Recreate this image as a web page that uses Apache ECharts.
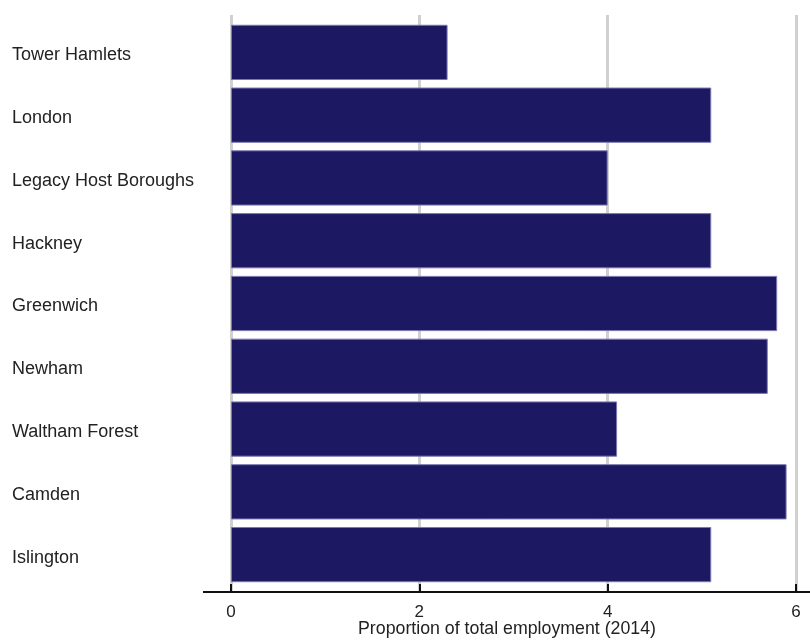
<!DOCTYPE html>
<html>
<head>
<meta charset="utf-8">
<script src="https://cdn.jsdelivr.net/npm/echarts@6/dist/echarts.min.js"></script>
<style>html,body{margin:0;padding:0;background:#fff;}#c{width:810px;height:642px;}</style>
</head>
<body>
<div id="c"></div>
<script>
var categories = ["Tower Hamlets", "London", "Legacy Host Boroughs", "Hackney", "Greenwich", "Newham", "Waltham Forest", "Camden", "Islington"];
var values = [2.3, 5.1, 4.0, 5.1, 5.8, 5.7, 4.1, 5.9, 5.1];
var xTicks = [0, 2, 4, 6];
var xTitle = "Proportion of total employment (2014)";

var chart = echarts.init(document.getElementById('c'), null, {renderer: 'canvas'});
var font = '"Liberation Sans", Arial, sans-serif';
chart.setOption({
  animation: false,
  backgroundColor: '#ffffff',
  grid: [
    {left: 231, right: 14, top: 21, bottom: 56, outerBoundsMode: 'none', containLabel: false},
    {left: 231, right: 14, top: 15, bottom: 50, outerBoundsMode: 'none', containLabel: false}
  ],
  xAxis: [
    {
      gridIndex: 0, type: 'value', min: xTicks[0], max: xTicks[xTicks.length - 1], interval: 2,
      offset: 6,
      axisLine: {show: false},
      axisTick: {show: true, inside: true, length: 8, lineStyle: {color: '#111', width: 2}},
      splitLine: {show: false},
      axisLabel: {margin: 12, fontSize: 17, color: '#222', fontFamily: font},
      name: xTitle, nameLocation: 'middle', nameGap: 28, nameMoveOverlap: false,
      nameTextStyle: {fontSize: 17.75, color: '#222', fontFamily: font, padding: [0, 13, 0, 0]}
    },
    {
      gridIndex: 1, type: 'value', min: xTicks[0], max: xTicks[xTicks.length - 1], interval: 2,
      axisLine: {show: false}, axisTick: {show: false}, axisLabel: {show: false},
      splitLine: {show: true, lineStyle: {color: '#d0d0d0', width: 3}}
    }
  ],
  yAxis: [
    {
      gridIndex: 0, type: 'category', data: categories, inverse: true,
      axisLine: {show: false}, axisTick: {show: false},
      axisLabel: {align: 'left', verticalAlign: 'top', lineHeight: 6, margin: 219, fontSize: 18, color: '#222', fontFamily: font}
    },
    {gridIndex: 1, type: 'value', show: false}
  ],
  graphic: [
    {type: 'line', shape: {x1: 203, y1: 592, x2: 810, y2: 592}, style: {stroke: '#111', lineWidth: 2}, z: 10}
  ],
  series: [
    {
      type: 'bar', xAxisIndex: 0, yAxisIndex: 0, data: values, barCategoryGap: '12%',
      itemStyle: {color: '#1c1862', borderColor: '#7a78b2', borderWidth: 1},
      z: 5
    }
  ]
});
</script>
</body>
</html>
